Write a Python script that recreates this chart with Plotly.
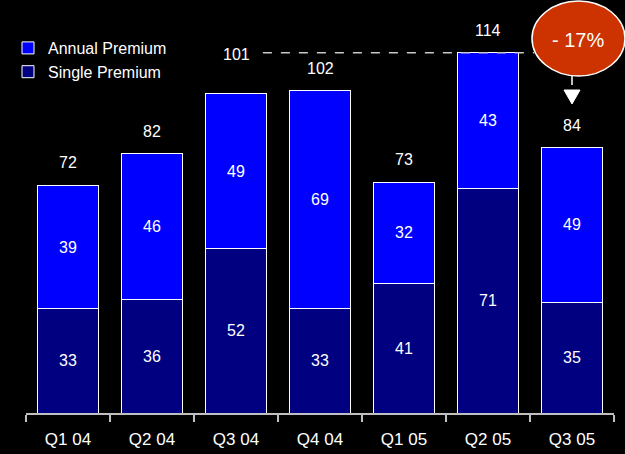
import plotly.graph_objects as go

categories = ["Q1 04", "Q2 04", "Q3 04", "Q4 04", "Q1 05", "Q2 05", "Q3 05"]
single_premium = [33, 36, 52, 33, 41, 71, 35]
annual_premium = [39, 46, 49, 69, 32, 43, 49]
totals = [72, 82, 101, 102, 73, 114, 84]
callout_text = "- 17%"

W, H = 625, 454
ML, MR, MT, MB = 26, 11, 18, 41
PW, PH = W - ML - MR, H - MT - MB

def px_x(x):
    return (x - ML) / PW

def px_y(y):
    return (H - MB - y) / PH

font_family = "Liberation Sans, Arial, sans-serif"

fig = go.Figure()
fig.add_trace(go.Bar(
    name="Single Premium", x=categories, y=single_premium,
    marker=dict(color="#000080", line=dict(color="white", width=1)),
    text=[str(v) for v in single_premium], textposition="inside",
    insidetextanchor="middle", textangle=0,
    textfont=dict(color="white", size=16, family=font_family),
))
fig.add_trace(go.Bar(
    name="Annual Premium", x=categories, y=annual_premium,
    marker=dict(color="#0000FF", line=dict(color="white", width=1)),
    text=[str(v) for v in annual_premium], textposition="inside",
    insidetextanchor="middle", textangle=0,
    textfont=dict(color="white", size=16, family=font_family),
))

peak = max(totals)
annotations = []
for c, t in zip(categories, totals):
    if t == 101:
        annotations.append(dict(x=c, y=peak, text=str(t), showarrow=False,
                                yanchor="middle", yshift=-2,
                                font=dict(color="white", size=16, family=font_family)))
    else:
        annotations.append(dict(x=c, y=t, text=str(t), showarrow=False,
                                yanchor="bottom", yshift=12,
                                font=dict(color="white", size=16, family=font_family)))

annotations.append(dict(xref="paper", yref="paper", x=px_x(578), y=px_y(40),
                        xanchor="center", yanchor="middle",
                        text=callout_text, showarrow=False,
                        font=dict(color="white", size=20, family=font_family)))

shapes = [
    dict(type="line", xref="x", yref="y", x0=2.32, x1=5.55, y0=peak, y1=peak,
         line=dict(color="#C8C8C8", width=1.5, dash="dash"), layer="above"),
    dict(type="circle", xref="paper", yref="paper",
         x0=px_x(532), x1=px_x(625), y0=px_y(76), y1=px_y(1),
         fillcolor="#CC3300", line=dict(color="white", width=1.5), layer="above"),
    dict(type="line", xref="paper", yref="paper",
         x0=px_x(572), x1=px_x(572), y0=px_y(76), y1=px_y(91),
         line=dict(color="white", width=1.5, dash="dash"), layer="above"),
]
x_l, x_r, x_m = px_x(564), px_x(580), px_x(572)
y_t, y_b = px_y(90), px_y(104)
shapes.append(dict(type="path", xref="paper", yref="paper",
                   path=f"M {x_l} {y_t} L {x_r} {y_t} L {x_m} {y_b} Z",
                   fillcolor="white", line=dict(color="white", width=1), layer="above"))

fig.update_layout(
    width=W, height=H,
    margin=dict(l=ML, r=MR, t=MT, b=MB, autoexpand=False),
    paper_bgcolor="black", plot_bgcolor="black",
    barmode="stack", bargap=0.28,
    font=dict(family=font_family, color="white", size=16),
    legend=dict(x=px_x(8), y=px_y(31), xanchor="left", yanchor="top",
                traceorder="reversed", bgcolor="rgba(0,0,0,0)",
                font=dict(size=16, color="white", family=font_family),
                itemwidth=30, tracegroupgap=2),
    xaxis=dict(type="category", showgrid=False, zeroline=False,
               showline=True, linecolor="#BFBFBF", linewidth=1.5,
               ticks="outside", tickson="boundaries", ticklen=7,
               tickcolor="#BFBFBF", tickwidth=1.5, ticklabelstandoff=10,
               automargin=False,
               tickfont=dict(size=17, color="white", family=font_family)),
    yaxis=dict(range=[0, 125], showgrid=False, zeroline=False,
               showline=False, showticklabels=False, ticks="", automargin=False),
    annotations=annotations,
    shapes=shapes,
)

fig.write_html("out.html", config={"displayModeBar": False},
               post_script="document.body.style.margin='0';document.body.style.background='black';")
